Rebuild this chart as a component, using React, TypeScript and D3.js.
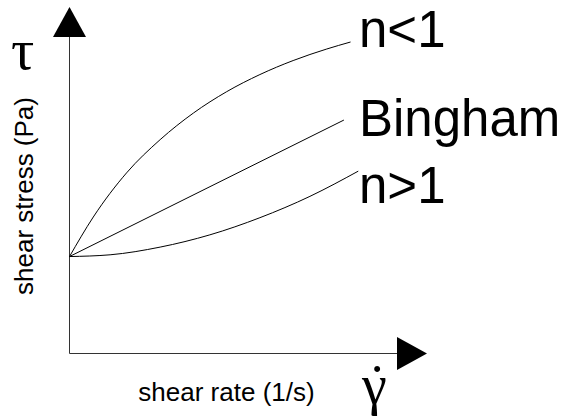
import React from "react";
import * as d3 from "d3";

// Flow curves: shear stress vs shear rate for a yield-stress fluid
const shearRateThin = [0, 6.8, 16.3, 25.9, 35.4, 44.9, 54.4, 63.9, 73.5, 80.3];
const stressShearThinning = [27.7, 39.0, 51.6, 61.1, 68.7, 74.8, 79.7, 83.7, 87.0, 89.0];

const binghamRate = [0, 78.4];
const binghamStress = [27.7, 66.7];

const shearRateThick = [0, 11.6, 25.9, 40.1, 54.4, 68.7, 82.5];
const stressShearThickening = [27.7, 28.2, 30.4, 33.9, 38.8, 44.9, 52.1];

const curveLabels = ["n<1", "Bingham", "n>1"];

const W = 567;
const H = 418;

export default function App() {
  const x = d3.scaleLinear().domain([0, 100]).range([69.5, 419.5]);
  const y = d3.scaleLinear().domain([0, 100]).range([353.5, 3.5]);

  const line = d3
    .line<[number, number]>()
    .x((d) => x(d[0]))
    .y((d) => y(d[1]))
    .curve(d3.curveMonotoneX);

  const series: [number, number][][] = [
    shearRateThin.map((r, i) => [r, stressShearThinning[i]]),
    binghamRate.map((r, i) => [r, binghamStress[i]]),
    shearRateThick.map((r, i) => [r, stressShearThickening[i]]),
  ];

  const x0 = x(0);
  const y0 = y(0);
  const yTop = 7; // tip of vertical arrow
  const xEnd = 427; // tip of horizontal arrow
  const headLen = 30;
  const headHalf = 16.5;

  const labelPos = [
    { lx: 359, ly: 47 },
    { lx: 359, ly: 136 },
    { lx: 359, ly: 203 },
  ];

  const sans = "'Liberation Sans', Arial, sans-serif";
  const serif = "'Liberation Serif', 'Times New Roman', serif";

  return (
    <svg
      width={W}
      height={H}
      style={{ position: "absolute", left: 0, top: 0, background: "#fff" }}
    >
      {/* axes */}
      <line x1={x0} y1={y0} x2={x0} y2={yTop + headLen} stroke="#333" strokeWidth={1} />
      <line x1={x0} y1={y0} x2={xEnd - headLen} y2={y0} stroke="#333" strokeWidth={1} />
      <path
        d={`M${x0},${yTop} L${x0 - headHalf},${yTop + headLen} L${x0 + headHalf},${yTop + headLen} Z`}
        fill="#000"
      />
      <path
        d={`M${xEnd},${y0} L${xEnd - headLen},${y0 - headHalf} L${xEnd - headLen},${y0 + headHalf} Z`}
        fill="#000"
      />

      {/* flow curves */}
      {series.map((s, i) => (
        <path key={i} d={line(s) ?? ""} fill="none" stroke="#000" strokeWidth={1} />
      ))}

      {/* curve labels */}
      {curveLabels.map((t, i) => (
        <text
          key={t}
          x={labelPos[i].lx}
          y={labelPos[i].ly}
          fontFamily={sans}
          fontSize={51}
          fill="#000"
        >
          {t}
        </text>
      ))}

      {/* axis symbols: τ and γ-dot */}
      <text x={11} y={69} fontFamily={serif} fontSize={58} fill="#000">
        τ
      </text>
      <text fontFamily={serif} fontSize={56} fill="#000">
        <tspan x={362} y={404}>γ</tspan>
        <tspan x={377} y={404} textAnchor="middle">˙</tspan>
      </text>

      {/* axis titles */}
      <text
        transform="translate(33,196) rotate(-90)"
        textAnchor="middle"
        fontFamily={sans}
        fontSize={26}
        fill="#000"
      >
        shear stress (Pa)
      </text>
      <text x={226.5} y={401} textAnchor="middle" fontFamily={sans} fontSize={26} fill="#000">
        shear rate (1/s)
      </text>
    </svg>
  );
}
